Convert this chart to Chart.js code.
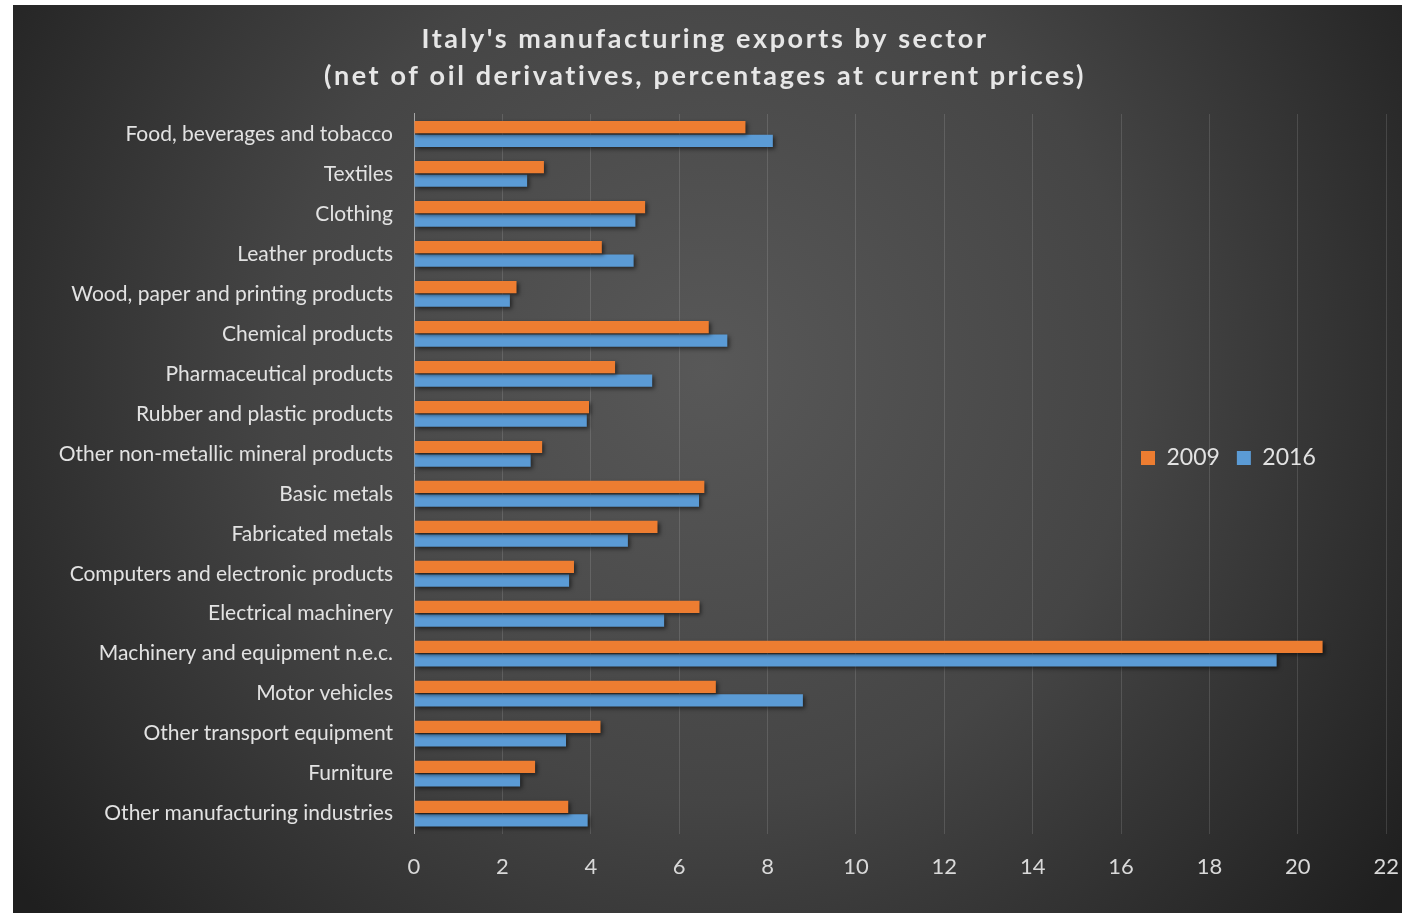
<!DOCTYPE html>
<html>
<head>
<meta charset="utf-8">
<script src="https://cdn.jsdelivr.net/npm/chart.js@4"></script>
<style>
  html, body { margin: 0; padding: 0; background: #ffffff; }
  #wrap { position: absolute; left: 13px; top: 5px; width: 1389px; height: 908px; }
</style>
</head>
<body>
<div id="wrap"><canvas id="graficoBarra"></canvas></div>
<script>
const sectors = [
    'Food, beverages and tobacco', 'Textiles', 'Clothing', 'Leather products',
    'Wood, paper and printing products', 'Chemical products', 'Pharmaceutical products',
    'Rubber and plastic products', 'Other non-metallic mineral products', 'Basic metals',
    'Fabricated metals', 'Computers and electronic products', 'Electrical machinery',
    'Machinery and equipment n.e.c.', 'Motor vehicles', 'Other transport equipment',
    'Furniture', 'Other manufacturing industries'
];
const exports2009 = [7.50, 2.94, 5.23, 4.25, 2.32, 6.67, 4.55, 3.96, 2.90, 6.57, 5.51, 3.62, 6.46, 20.56, 6.83, 4.22, 2.74, 3.49];
const exports2016 = [8.12, 2.56, 5.01, 4.97, 2.17, 7.09, 5.39, 3.91, 2.64, 6.45, 4.84, 3.51, 5.66, 19.52, 8.80, 3.44, 2.40, 3.93];
const xTicks = [0, 2, 4, 6, 8, 10, 12, 14, 16, 18, 20, 22];

// dark radial background like the office theme
const fondo = {
    id: 'fondo',
    beforeDraw(chart) {
        const ctx = chart.ctx;
        const w = chart.width, h = chart.height;
        const g = ctx.createRadialGradient(w * 0.5, h * 0.4, 0, w * 0.5, h * 0.4, w * 0.62);
        g.addColorStop(0, '#585858');
        g.addColorStop(0.5, '#454545');
        g.addColorStop(1, '#1f1f1f');
        ctx.save();
        ctx.fillStyle = g;
        ctx.fillRect(0, 0, w, h);
        ctx.restore();
    }
};

// soft shadow under the bars
const sombra = {
    id: 'sombra',
    beforeDatasetsDraw(chart) {
        const ctx = chart.ctx;
        ctx.save();
        ctx.shadowColor = 'rgba(0,0,0,0.55)';
        ctx.shadowBlur = 4;
        ctx.shadowOffsetX = 2;
        ctx.shadowOffsetY = 2;
    },
    afterDatasetsDraw(chart) {
        chart.ctx.restore();
    }
};

// legend in one row, inside the plot on the right; spaced-out title
const ajustes = {
    id: 'ajustes',
    afterLayout(chart) {
        const lg = chart.legend;
        lg.maxHeight = 60;
        lg.fit();
        const w = lg.width, h = lg.height;
        lg.left = 1111;
        lg.right = lg.left + w;
        lg.top = 423;
        lg.bottom = lg.top + h;

        const t = chart.titleBlock;
        if (!t._espaciado) {
            const orig = t.draw.bind(t);
            t.draw = function () {
                const ctx = chart.ctx;
                ctx.save();
                ctx.letterSpacing = '2.6px';
                orig();
                ctx.restore();
            };
            t._espaciado = true;
        }
    }
};

const ctxBarra = document.getElementById('graficoBarra').getContext('2d');
const graficoBarra = new Chart(ctxBarra, {
    type: 'bar',
    data: {
        labels: sectors,
        datasets: [{
            label: '2009',
            data: exports2009,
            backgroundColor: '#ED7D31',
            categoryPercentage: 0.68,
            barPercentage: 0.9
        }, {
            label: '2016',
            data: exports2016,
            backgroundColor: '#5B9BD5',
            categoryPercentage: 0.68,
            barPercentage: 0.9
        }]
    },
    options: {
        indexAxis: 'y',
        responsive: true,
        maintainAspectRatio: false,
        animation: false,
        layout: {
            padding: { top: 0, left: 10, right: 15, bottom: 30 }
        },
        scales: {
            x: {
                min: 0,
                max: 22,
                afterBuildTicks: s => { s.ticks = xTicks.map(v => ({ value: v })); },
                grid: { color: 'rgba(255,255,255,0.13)', drawTicks: true, tickLength: 17, tickColor: 'transparent' },
                border: { display: false },
                ticks: {
                    color: '#d9d9d9',
                    padding: 3,
                    font: { family: 'Lato', size: 22 }
                }
            },
            y: {
                afterFit: s => { s.width = 391; },
                grid: { display: false, drawTicks: true, tickLength: 18 },
                border: { display: true, color: '#a6a6a6', width: 1 },
                ticks: {
                    color: '#e2e2e2',
                    padding: 3,
                    font: { family: 'Lato', size: 21 }
                }
            }
        },
        plugins: {
            legend: {
                position: 'chartArea',
                labels: {
                    color: '#e2e2e2',
                    boxWidth: 14,
                    boxHeight: 14,
                    padding: 17,
                    font: { family: 'Lato', size: 23 }
                }
            },
            title: {
                display: true,
                text: ["Italy's manufacturing exports by sector", '(net of oil derivatives, percentages at current prices)'],
                color: '#e6e6e6',
                font: { family: 'Lato', size: 27, weight: 'bold', lineHeight: 1.37 },
                padding: { top: 16, bottom: 19 }
            },
            tooltip: { enabled: false }
        }
    },
    plugins: [fondo, sombra, ajustes]
});
</script>
</body>
</html>
